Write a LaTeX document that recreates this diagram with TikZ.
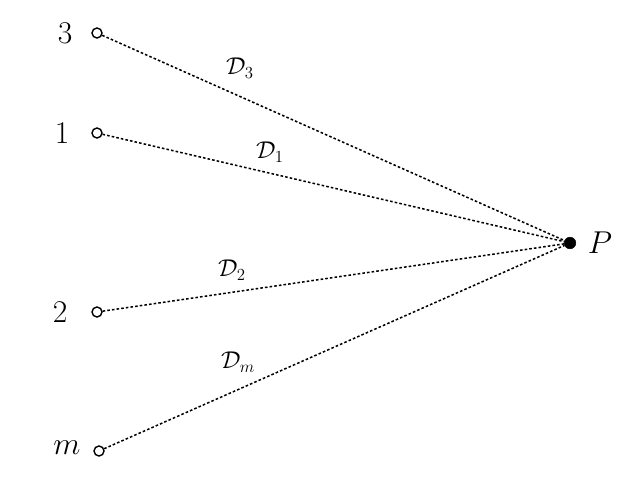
\documentclass[tikz,border=0pt]{standalone}
\begin{document}
\begin{tikzpicture}[x=0.03cm,y=-0.03cm]
\tikzstyle{source}=[draw,circle,line width=1.2pt,fill=white,inner sep=0pt,minimum size=0.3cm]
\tikzstyle{cible}=[draw,circle,fill=black,inner sep=0pt,minimum size=0.35cm]
\tikzstyle{rayon}=[line width=1.3pt,dash pattern=on 2.2pt off 1.8pt]
\tikzstyle{etiq}=[font=\huge,scale=1.3]
\tikzstyle{dist}=[font=\huge]

\useasboundingbox (0,0) rectangle (632,479);

\node[cible] (P) at (570,243) {};
\node[etiq] at (600,243) {$P$};

\node[source] (s3) at (97,33) {};
\node[source] (s1) at (97,133) {};
\node[source] (s2) at (97,312) {};
\node[source] (sm) at (99,451) {};

\node[etiq] at (65,33) {$3$};
\node[etiq] at (62,133) {$1$};
\node[etiq] at (60,312) {$2$};
\node[etiq] at (67,448) {$m$};

\draw[rayon] (s3)--(P);
\draw[rayon] (s1)--(P);
\draw[rayon] (s2)--(P);
\draw[rayon] (sm)--(P);

\node[dist] at (240,68) {$\mathcal{D}_3$};
\node[dist] at (270,152) {$\mathcal{D}_1$};
\node[dist] at (232,270) {$\mathcal{D}_2$};
\node[dist] at (238,362) {$\mathcal{D}_m$};

\end{tikzpicture}
\end{document}
